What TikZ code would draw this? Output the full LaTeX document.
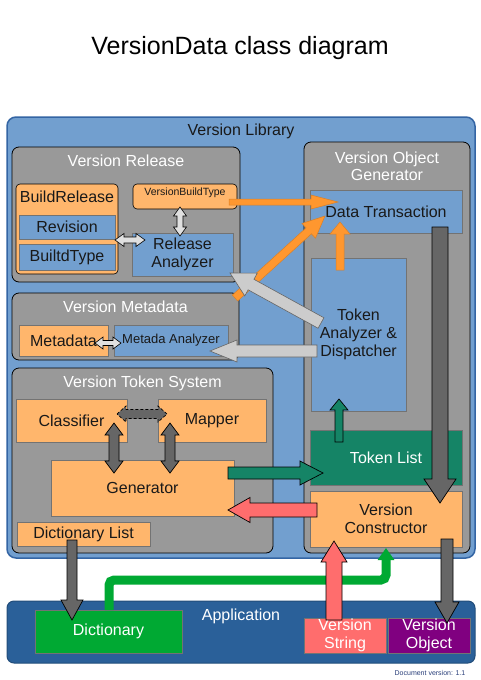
\documentclass[tikz,border=0pt]{standalone}
\usepackage{fontspec}
\setmainfont{Liberation Sans}
\usetikzlibrary{calc,positioning,arrows.meta}

\definecolor{libblue}{HTML}{729FCF}
\definecolor{libedge}{HTML}{3465A4}
\definecolor{panelgrey}{HTML}{999999}
\definecolor{boxorange}{HTML}{FFB66C}
\definecolor{arrorange}{HTML}{FF972F}
\definecolor{tokteal}{HTML}{158466}
\definecolor{dictgreen}{HTML}{00A933}
\definecolor{appblue}{HTML}{2A6099}
\definecolor{strred}{HTML}{FF6D6D}
\definecolor{objpurple}{HTML}{800080}
\definecolor{darkarr}{HTML}{666666}
\definecolor{lightarr}{HTML}{CCCCCC}
\definecolor{docblue}{HTML}{2A3F7A}

\tikzset{
  wh/.style 2 args={minimum width=#1pt,minimum height=#2pt},
  box/.style={anchor=north west,inner sep=0pt,outer sep=0pt,align=center,
    draw=black!55,line width=0.6pt,text=black!90,font=\fontsize{16}{18}\selectfont},
  panel/.style={box,draw=black,fill=panelgrey,rounded corners=7pt,line width=0.8pt},
  ttl/.style={text=white,align=center,font=\fontsize{16}{17}\selectfont},
  lbl/.style={text=black!90,align=center,font=\fontsize{16}{18}\selectfont},
  orangearr/.style={fill=arrorange,draw=arrorange!85!black,line width=0.5pt},
  lightarr/.style={fill=lightarr,draw=black!60,line width=0.6pt},
  paledarr/.style={fill=black!12,draw=black,line width=0.6pt},
  darkarr/.style={fill=darkarr,draw=black,line width=0.7pt},
  redarr/.style={fill=strred,draw=black,line width=0.7pt},
  tealarr/.style={fill=tokteal,draw=black,line width=0.7pt},
}

% block arrow: [style]{from}{to}{half shaft}{half head}{head length}
\newcommand{\blockarrow}[6][]{%
  \coordinate (hb) at ($(#3)!#6!(#2)$);
  \draw[#1] ($(#2)!#4!90:(#3)$) -- ($(hb)!#4!90:(#3)$) -- ($(hb)!#5!90:(#3)$) -- (#3)
    -- ($(hb)!#5!-90:(#3)$) -- ($(hb)!#4!-90:(#3)$) -- ($(#2)!#4!-90:(#3)$) -- cycle;
}
% two headed block arrow, same arguments
\newcommand{\twoarrow}[6][]{%
  \coordinate (hb) at ($(#3)!#6!(#2)$);
  \coordinate (ha) at ($(#2)!#6!(#3)$);
  \draw[#1] (#2) -- ($(ha)!#5!90:(#3)$) -- ($(ha)!#4!90:(#3)$) -- ($(hb)!#4!90:(#3)$)
    -- ($(hb)!#5!90:(#3)$) -- (#3) -- ($(hb)!#5!-90:(#3)$) -- ($(hb)!#4!-90:(#3)$)
    -- ($(ha)!#4!-90:(#3)$) -- ($(ha)!#5!-90:(#3)$) -- cycle;
}

\begin{document}
\begin{tikzpicture}[x=1pt,y=-1pt]
  \fill[white] (0,0) rectangle (481,680);
  \useasboundingbox (0,0) rectangle (481,680);

  \node[font=\fontsize{25}{27}\selectfont] (title) at (240,48) {VersionData class diagram};

  % library
  \node[box,draw=libedge,line width=1.5pt,fill=libblue,rounded corners=9pt,wh={468}{441}] (lib) at (7,117) {};
  \node[lbl] (libt) at ($(lib.north)+(0,14)$) {Version Library};

  % release
  \node[panel,wh={228}{135}] (rel) at (12,147) {};
  \node[ttl] (relt) at ($(rel.north)+(0,14)$) {Version Release};
  \node[box,draw=black,fill=boxorange,rounded corners=4pt,wh={102}{90}] (br) at (16,184) {};
  \node[lbl] (brt) at ($(br.north)+(0,13)$) {BuildRelease};
  \node[box,fill=libblue,wh={96}{24}] (rev) at (19,215) {Revision};
  \node[box,fill=libblue,wh={96}{26}] (btype) at (19,244) {BuiltdType};
  \node[box,draw=black,fill=boxorange,rounded corners=4pt,wh={104}{25}] (vbt) at (133,184) {};
  \node[font=\fontsize{10.5}{12}\selectfont,text=black!90] (vbtt) at ($(vbt.north)+(0,9)$) {VersionBuildType};
  \node[box,fill=libblue,wh={101}{43}] (ra) at (132,233) {Release\\Analyzer};

  % metadata
  \node[panel,wh={227}{67}] (mp) at (12,293) {};
  \node[ttl] (mpt) at ($(mp.north)+(0,14)$) {Version Metadata};
  \node[box,fill=boxorange,wh={89}{31}] (md) at (19,325) {Metadata};
  \node[box,fill=libblue,wh={114}{31},font=\fontsize{13}{15}\selectfont] (mda) at (114,325) {Metada Analyzer};

  % token system
  \node[panel,wh={261}{185}] (tp) at (12,368) {};
  \node[ttl] (tpt) at ($(tp.north)+(0,15)$) {Version Token System};
  \node[box,fill=boxorange,wh={111}{43}] (cls) at (16,399) {Classifier};
  \node[box,fill=boxorange,wh={108}{43}] (map) at (158,399) {Mapper};
  \node[box,fill=boxorange,wh={183}{56}] (gen) at (51,460) {Generator};
  \node[box,fill=boxorange,wh={133}{24}] (dl) at (17,522) {Dictionary List};

  % object generator
  \node[panel,wh={166}{411}] (vog) at (304,142) {};
  \node[ttl] (vogt) at ($(vog.north)+(0,24)$) {Version Object\\Generator};
  \node[box,fill=libblue,wh={152}{43}] (dt) at (310,190) {Data Transaction};
  \node[box,fill=libblue,wh={95}{153}] (tad) at (311,258) {Token\\Analyzer \&\\Dispatcher};
  \node[box,fill=tokteal,text=white,wh={152}{55}] (tl) at (310,430) {Token List};
  \node[box,fill=boxorange,wh={152}{56}] (vc) at (310,491) {Version\\Constructor};

  % application
  \node[box,draw=appblue!80!black,line width=1pt,fill=appblue,rounded corners=7pt,wh={468}{62}] (app) at (7,601) {};
  \node[ttl] (appt) at ($(app.north)+(0,15)$) {Application};
  \node[box,fill=dictgreen,text=white,wh={147}{43}] (dic) at (35,610) {Dictionary};
  \node[box,fill=strred,text=white,wh={82}{35}] (vs) at (304,618) {Version\\String};
  \node[box,fill=objpurple,text=white,wh={82}{35}] (vo) at (388,618) {Version\\Object};

  \node[text=docblue,font=\fontsize{7}{8}\selectfont] (docv) at (430,673) {Document version: 1.1};

  % arrow ends
  \coordinate (o1a) at ($(vbt.east)+(-8,5.5)$);
  \coordinate (o1b) at ($(dt.west)+(28,-9.5)$);
  \coordinate (o2a) at ($(ra.south east)+(2,22)$);
  \coordinate (o2b) at ($(dt.west)+(15,4.5)$);
  \coordinate (o3a) at ($(tad.north)+(-18.5,12)$);
  \coordinate (o3b) at ($(dt.south)+(-46,-11)$);
  \coordinate (g1a) at ($(tad.west)+(10,-11.5)$);
  \coordinate (g1b) at ($(ra.south east)+(-3,-3)$);
  \coordinate (g2a) at ($(tad.west)+(6,16.5)$);
  \coordinate (g2b) at ($(mda.east)+(-18,10.5)$);
  \coordinate (k1a) at ($(dt.south east)+(-22,-6)$);
  \coordinate (k1b) at ($(vc.north east)+(-22,12)$);
  \coordinate (k2a) at ($(dl.south)+(-11.5,-6)$);
  \coordinate (k2b) at ($(dic.north west)+(37,10)$);
  \coordinate (k3a) at ($(vc.south east)+(-15,-8)$);
  \coordinate (k3b) at ($(vo.north)+(18,5)$);
  \coordinate (r1a) at ($(vc.west)+(7,-9)$);
  \coordinate (r1b) at ($(gen.east)+(-6,22)$);
  \coordinate (r2a) at ($(vs.north)+(-11,2)$);
  \coordinate (r2b) at ($(vc.south)+(-52,-6)$);
  \coordinate (t1a) at ($(gen.east)+(-6,-15)$);
  \coordinate (t1b) at ($(tl.west)+(13,15.5)$);
  \coordinate (t2a) at ($(tl.north)+(-47,12)$);
  \coordinate (t2b) at ($(tad.south)+(-19.5,-12)$);
  \coordinate (d1a) at ($(rev.east)+(0,13)$);
  \coordinate (d1b) at ($(ra.west)+(13,-14.5)$);
  \coordinate (d2a) at ($(vbt.south)+(-5,-2)$);
  \coordinate (d2b) at ($(ra.north)+(-2.5,3)$);
  \coordinate (d3a) at ($(md.east)+(-13,2.5)$);
  \coordinate (d3b) at ($(mda.west)+(7,2.5)$);
  \coordinate (d4a) at ($(cls.east)+(-10,-6.5)$);
  \coordinate (d4b) at ($(map.west)+(9,-6.5)$);
  \coordinate (d5a) at ($(cls.south)+(42.5,-19)$);
  \coordinate (d5b) at ($(gen.north)+(-28.5,13)$);
  \coordinate (d6a) at ($(map.south)+(-42,-19)$);
  \coordinate (d6b) at ($(gen.north)+(27.5,13)$);
  \coordinate (gs) at ($(dic.north west)+(74,0)$);
  \coordinate (gc) at ($(vc.south)+(0,33)$);
  \coordinate (ge) at ($(vc.south)+(0,1)$);

  % arrows
  \draw[dictgreen,line width=9pt,rounded corners=5pt,-{Triangle[length=12pt,width=16pt]}] (gs) |- (gc) -- (ge);
  \blockarrow[orangearr]{o1a}{o1b}{3pt}{7pt}{27pt}
  \blockarrow[orangearr]{o2a}{o2b}{4pt}{10pt}{22pt}
  \blockarrow[orangearr]{o3a}{o3b}{4pt}{10pt}{12pt}
  \blockarrow[lightarr]{g1a}{g1b}{6pt}{13pt}{24pt}
  \blockarrow[lightarr]{g2a}{g2b}{6pt}{11pt}{27pt}
  \blockarrow[darkarr]{k1a}{k1b}{8pt}{16pt}{24pt}
  \blockarrow[darkarr]{k2a}{k2b}{5pt}{11pt}{20pt}
  \blockarrow[darkarr]{k3a}{k3b}{6pt}{12pt}{21pt}
  \blockarrow[redarr]{r1a}{r1b}{7pt}{12.5pt}{22pt}
  \blockarrow[redarr]{r2a}{r2b}{8pt}{13pt}{21pt}
  \blockarrow[tealarr]{t1a}{t1b}{6pt}{12pt}{23pt}
  \blockarrow[tealarr]{t2a}{t2b}{4pt}{9pt}{11pt}
  \twoarrow[paledarr]{d1a}{d1b}{3pt}{6.5pt}{9pt}
  \twoarrow[paledarr]{d2a}{d2b}{3pt}{6.5pt}{9pt}
  \twoarrow[paledarr]{d3a}{d3b}{2.5pt}{6pt}{8pt}
  \twoarrow[darkarr,densely dashed]{d4a}{d4b}{4.5pt}{8pt}{9pt}
  \twoarrow[darkarr]{d5a}{d5b}{5pt}{9pt}{12pt}
  \twoarrow[darkarr]{d6a}{d6b}{5pt}{9pt}{12pt}
\end{tikzpicture}
\end{document}
